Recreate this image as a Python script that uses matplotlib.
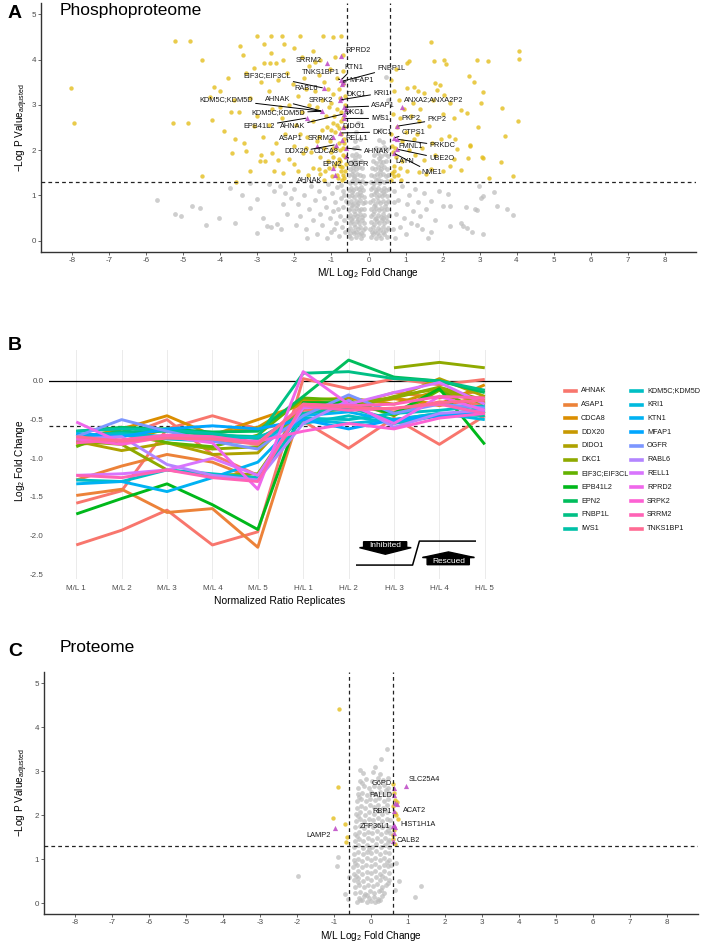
import numpy as np
import matplotlib
matplotlib.use("Agg")
import matplotlib.pyplot as plt
from matplotlib.patches import Polygon
from matplotlib.lines import Line2D

plt.rcParams['font.family'] = ['Liberation Sans', 'DejaVu Sans']
plt.rcParams['mathtext.fontset'] = 'custom'
plt.rcParams['mathtext.rm'] = 'Liberation Sans'
plt.rcParams['mathtext.it'] = 'Liberation Sans:italic'

# ---------------- DATA ----------------
# Panel A (phosphoproteome volcano): (log2 FC, -log10 p adj)
A_gray_center = [
    (-0.53,0.11),(-0.46,0.05),(-0.4,0.16),(-0.33,0.09),(-0.27,0.14),(-0.2,0.06),(-0.14,0.12),(0.07,0.08),(0.13,0.15),(0.21,0.05),(0.28,0.12),(0.35,0.07),(0.43,0.14),(0.5,0.09),
    (-0.55,0.24),(-0.49,0.29),(-0.42,0.22),(-0.36,0.3),(-0.29,0.25),(-0.23,0.31),(-0.16,0.23),(-0.1,0.28),(0.05,0.26),(0.11,0.31),(0.18,0.22),(0.25,0.29),(0.32,0.24),(0.39,0.3),(0.46,0.23),(0.54,0.27),
    (-0.51,0.38),(-0.44,0.43),(-0.38,0.37),(-0.31,0.44),(-0.25,0.39),(-0.18,0.45),(-0.12,0.4),(0.08,0.42),(0.15,0.37),(0.22,0.44),(0.29,0.38),(0.36,0.45),(0.43,0.39),(0.5,0.43),
    (-0.56,0.53),(-0.5,0.57),(-0.43,0.52),(-0.37,0.58),(-0.3,0.54),(-0.24,0.59),(-0.17,0.52),(-0.11,0.56),(0.06,0.55),(0.12,0.58),(0.19,0.51),(0.26,0.57),(0.33,0.53),(0.4,0.59),(0.47,0.52),(0.55,0.56),
    (-0.53,0.68),(-0.46,0.72),(-0.4,0.66),(-0.33,0.73),(-0.26,0.67),(-0.2,0.71),(-0.13,0.69),(0.07,0.7),(0.14,0.66),(0.21,0.73),(0.28,0.68),(0.35,0.72),(0.42,0.67),(0.49,0.71),
    (-0.55,0.84),(-0.48,0.88),(-0.42,0.82),(-0.35,0.87),(-0.28,0.83),(-0.22,0.89),(-0.15,0.84),(-0.09,0.86),(0.05,0.85),(0.11,0.89),(0.18,0.82),(0.25,0.87),(0.32,0.83),(0.39,0.88),(0.46,0.84),(0.53,0.87),
    (-0.52,0.98),(-0.45,1.02),(-0.39,0.97),(-0.32,1.03),(-0.25,0.99),(-0.19,1.01),(-0.12,0.96),(0.08,1.0),(0.15,1.03),(0.22,0.97),(0.29,1.02),(0.36,0.98),(0.43,1.03),(0.5,0.99),
    (-0.54,1.13),(-0.47,1.17),(-0.41,1.12),(-0.34,1.16),(-0.27,1.14),(-0.21,1.18),(-0.14,1.12),(0.06,1.15),(0.12,1.18),(0.19,1.12),(0.27,1.16),(0.34,1.13),(0.41,1.17),(0.48,1.12),(0.55,1.15),
    (-0.51,1.28),(-0.44,1.32),(-0.37,1.27),(-0.3,1.33),(-0.24,1.29),(-0.17,1.31),(-0.1,1.27),(0.07,1.3),(0.14,1.27),(0.21,1.33),(0.28,1.28),(0.35,1.32),(0.42,1.29),(0.5,1.31),
    (-0.53,1.44),(-0.45,1.47),(-0.38,1.42),(-0.31,1.48),(-0.23,1.45),(-0.15,1.43),(0.08,1.46),(0.16,1.42),(0.24,1.48),(0.31,1.44),(0.39,1.47),(0.47,1.43),(0.54,1.46),
    (-0.5,1.59),(-0.42,1.62),(-0.34,1.58),(-0.26,1.63),(-0.18,1.6),(0.1,1.61),(0.18,1.58),(0.26,1.63),(0.34,1.59),(0.42,1.62),(0.5,1.58),
    (-0.47,1.74),(-0.39,1.77),(-0.3,1.73),(-0.21,1.76),(0.12,1.75),(0.21,1.72),(0.3,1.77),(0.39,1.74),(0.48,1.76),
    (-0.44,1.89),(-0.35,1.92),(-0.25,1.88),(0.15,1.9),(0.25,1.93),(0.35,1.88),(0.45,1.91),(0.53,1.87),
    (-0.4,2.04),(-0.3,2.07),(0.2,2.05),(0.32,2.02),(0.42,2.08),(0.5,2.03),
    (-0.36,2.2),(-0.22,2.25),(0.28,2.22),(0.4,2.18),
    (-0.33,2.4),(0.35,2.45),(-0.28,2.6),(0.46,3.62),(0.52,3.1),(-0.2,2.85),(0.3,2.75),
    (-0.49,0.17),(-0.35,0.2),(-0.21,0.18),(0.1,0.2),(0.24,0.18),(0.4,0.2),(-0.47,0.47),(-0.28,0.48),(0.18,0.48),(0.38,0.5),
    (-0.45,0.78),(-0.3,0.79),(0.16,0.77),(0.44,0.77),(-0.44,1.07),(-0.24,1.08),(0.2,1.07),(0.4,1.08),(-0.4,1.38),(0.25,1.37),
    (-0.42,1.53),(0.3,1.53),(-0.37,1.68),(0.35,1.68),(-0.36,1.83),(0.28,1.83)]
A_gray_outer = [
    (-5.71,0.9),(-4.77,0.77),(-4.56,0.73),(-5.24,0.59),(-5.08,0.55),(-4.05,0.49),(-3.73,1.17),(-3.41,1.02),(-3.0,0.93),(-3.2,0.72),(-3.0,0.17),
    (-2.73,0.33),(-2.64,0.3),(-2.46,0.37),(-2.37,0.26),(-2.55,1.1),(-2.4,1.2),(-2.25,1.05),(-2.1,0.95),(-2.0,1.15),(-1.9,0.8),(-1.85,0.55),
    (-1.75,1.0),(-1.7,0.25),(-1.6,0.7),(-1.55,1.2),(-1.5,0.45),(-1.45,0.9),(-1.4,0.15),(-1.35,1.1),(-1.3,0.6),(-1.25,0.35),(-1.2,0.95),
    (-1.15,0.75),(-1.1,1.25),(-1.05,0.5),(-1.0,0.2),(-0.98,1.05),(-0.95,0.65),(-0.9,0.85),(-0.88,0.4),(-0.85,1.18),(-0.8,0.1),(-0.78,0.55),
    (-0.75,0.95),(-0.72,0.3),(-0.7,0.75),(-0.68,1.1),(-0.65,0.45),(-0.63,0.2),(-0.62,0.88),(-2.2,0.6),(-2.85,0.5),(-1.95,0.35),(-2.3,0.8),
    (-1.65,0.05),(-3.6,0.4),(-4.4,0.35),(-2.7,1.25),(-3.2,1.28),(-0.82,0.7),(-0.66,1.0),(-0.74,1.22),(-0.92,0.25),(-1.12,0.05),
    (2.98,1.2),(3.38,1.07),(3.1,0.98),(3.05,0.95),(2.16,1.03),(1.69,0.88),(2.0,0.77),(2.2,0.77),(2.63,0.74),(2.88,0.7),(2.92,0.68),
    (3.48,0.76),(3.75,0.7),(3.91,0.56),(2.49,0.38),(2.2,0.33),(2.55,0.33),(2.66,0.29),(2.8,0.2),(3.1,0.14),(1.3,0.35),(1.45,0.25),
    (1.0,0.15),(1.6,0.05),(0.7,1.1),(0.75,0.6),(0.8,0.9),(0.85,0.3),(0.9,1.2),(0.95,0.5),(1.05,0.8),(1.1,1.0),(1.15,0.4),(1.2,0.65),
    (1.25,1.15),(1.35,0.85),(1.4,0.55),(1.5,1.05),(1.55,0.7),(1.8,0.45),(1.9,1.1),(0.65,0.25),(0.68,0.85),(0.72,0.05),(1.7,0.2)]
A_yellow = [
    (-3.0,4.52),(-2.63,4.52),(-2.35,4.52),(-1.84,4.52),(-1.24,4.52),(-0.95,4.5),(-0.75,4.52),
    (-3.48,4.31),(-2.83,4.34),(-2.27,4.35),(-3.4,4.1),(-2.63,4.15),(-2.83,3.92),(-2.67,3.92),(-2.49,3.92),(-2.3,4.0),(-3.1,3.81),
    (-3.3,3.7),(-4.18,3.39),(-4.27,3.17),(-4.0,3.3),(-3.64,3.11),(-3.71,2.84),(-4.22,2.67),(-3.91,2.42),(-3.61,2.24),(-3.37,2.16),
    (-3.68,1.94),(-3.1,2.53),(-2.6,1.94),(-2.9,1.9),(-3.3,1.98),(-3.2,1.54),(-4.51,1.42),(-3.59,1.3),(-2.92,1.76),(-2.81,1.76),
    (-2.55,1.55),(-2.3,1.5),(-2.0,1.69),(-2.14,1.8),(-1.78,1.94),(-1.5,1.6),(-1.64,1.45),(-1.3,1.47),(-1.08,1.6),
    (-8.05,3.38),(-7.95,2.61),(-5.24,4.4),(-4.82,4.4),(-4.51,3.99),(-5.29,2.6),(-4.88,2.61),
    (-2.9,3.5),(-2.7,3.3),(-2.45,3.55),(-2.2,3.7),(-2.05,3.45),(-1.9,3.2),(-1.75,3.6),(-1.6,3.85),(-1.45,3.3),(-1.35,3.65),(-1.2,3.5),
    (-1.05,3.8),(-0.95,3.25),(-0.85,3.6),(-0.7,3.45),(-2.6,2.9),(-2.35,2.7),(-2.15,3.0),(-1.95,2.55),(-1.8,2.85),(-1.65,2.3),(-1.5,2.65),
    (-1.4,2.95),(-1.25,2.45),(-1.15,2.75),(-1.05,2.2),(-0.95,2.6),(-0.85,2.9),(-0.75,2.35),(-0.68,2.7),(-2.85,2.3),(-2.5,2.15),(-2.25,2.35),
    (-2.0,2.1),(-1.85,2.35),(-1.7,2.05),(-1.55,1.95),(-1.4,2.2),(-1.3,1.85),(-1.2,2.05),(-1.1,1.75),(-1.0,1.95),(-0.92,1.65),(-0.85,1.45),
    (-0.8,1.8),(-0.75,1.55),(-0.7,2.05),(-0.65,1.38),(-0.62,1.7),(-0.9,2.4),(-0.8,2.15),(-0.7,1.9),(-0.66,2.5),(-1.0,3.05),(-0.78,3.15),
    (-1.1,3.35),(-0.9,4.05),(-1.5,4.2),(-2.0,4.25),(-1.3,4.0),(-0.7,4.1),(-1.8,4.05),(-3.8,3.6),(-3.5,2.85),(-3.2,3.15),(-2.4,2.95),
    (-2.7,2.55),(-3.0,2.75),(-1.35,1.58),(-0.98,1.42),(-1.2,1.35),(-2.45,1.78),(-1.9,1.55),(-0.88,2.05),(-0.95,1.85),(-0.75,2.85),
    (-0.63,3.0),(-0.72,1.35),(-0.64,1.55),(-0.67,2.25),(-0.78,1.65),(-0.86,2.55),(-0.69,3.75),(-1.02,2.45),(-1.25,3.1),(-1.6,3.0),
    (-0.64,1.85),(-0.71,1.62),(-0.83,1.38),(-0.77,2.0),(-0.66,2.15),(-0.88,1.72),(-0.73,2.65),(-0.81,2.48),(-0.97,2.05),(-1.12,2.5),
    (-1.33,2.3),(-1.18,1.55),(-0.69,1.45),(-0.76,1.75),(-0.92,2.75),(-1.07,2.95),(-0.8,3.35),(-0.64,3.2),(-1.45,3.95),(-1.7,3.35),
    (0.64,1.5),(0.7,1.65),(0.75,1.84),(0.8,1.45),(0.85,1.6),(0.9,1.75),(1.05,1.55),(1.36,1.52),(1.56,1.48),(1.69,1.58),(2.0,1.55),
    (2.2,1.65),(2.68,1.83),(3.1,1.82),(3.57,1.73),(2.49,1.56),(3.91,1.42),(3.26,1.38),(1.22,2.24),(2.74,2.1),(3.07,1.85),(2.31,1.8),
    (1.09,3.97),(1.05,3.92),(1.77,3.97),(2.05,3.99),(2.1,3.9),(2.92,3.99),(3.23,3.97),(2.71,3.63),(2.85,3.5),(3.09,3.28),(1.05,3.37),
    (1.22,3.39),(1.33,3.3),(1.5,3.26),(1.81,3.48),(1.86,3.32),(1.93,3.44),(2.05,3.22),(2.49,2.89),(2.67,2.82),(3.03,3.04),(3.62,2.92),
    (4.05,2.64),(3.68,2.32),(2.95,2.5),(2.73,2.11),(2.4,2.02),(2.17,2.31),(2.35,2.24),(1.95,2.24),(1.72,2.16),(1.63,2.53),(1.36,2.64),
    (2.31,2.71),(4.06,4.19),(4.06,4.02),(1.68,4.38),(0.62,1.35),(0.68,1.42),(0.72,2.05),(0.78,2.5),(0.65,2.8),(0.82,3.1),(0.7,3.3),
    (0.9,2.2),(0.95,2.9),(1.0,2.4),(1.1,2.0),(1.15,2.75),(1.25,1.9),(1.45,2.05),(1.3,2.35),(0.66,1.95),(0.6,2.35),(0.88,1.35),
    (1.5,1.78),(1.8,1.9),(0.75,3.8),(0.62,3.55),(1.4,2.9),(1.2,3.05),(2.0,2.8),(1.75,3.1),(2.2,3.05),(0.85,2.7),(0.63,2.1),(0.7,1.55)]
A_hits = [(-0.74,4.07),(-0.74,3.55),(-0.7,3.5),(-0.72,3.45),(-1.21,3.37),(-1.12,3.92),(-0.74,3.15),(-0.76,3.11),(-1.25,2.86),
          (0.91,2.95),(-0.62,2.9),(-0.65,2.7),(-1.66,2.71),(-0.67,2.8),(0.78,2.53),(-0.76,2.38),(0.69,2.27),(0.78,2.24),
          (-0.62,2.05),(0.78,2.02),(-0.89,2.12),(-0.62,1.87),(0.69,1.93),(-0.95,1.6),(-0.7,2.5),(-0.72,2.22),(-0.95,2.3),
          (-1.4,2.1),(-0.66,2.95),(-0.9,1.45)]
# labels: text, point x, point y
A_label_text = ["SRRM2","RPRD2","KTN1","FNBP1L","MFAP1","TNKS1BP1","EIF3C;EIF3CL","RABL6","SRPK2","DKC1","KRI1",
                "KDM5C;KDM5D","AHNAK","ANXA2;ANXA2P2","ASAP1","KDM5C;KDM5D","DKC1","IWS1","EPB41L2","AHNAK","PKP2","PKP2",
                "DIDO1","DKC1","CTPS1","SRRM2","ASAP1","RELL1","PRKDC","FMNL1","AHNAK","UBE2O","DDX20","CDCA8","EPN2",
                "OGFR","LAYN","NME1","AHNAK"]
A_label_pt = [(-1.12,3.92),(-0.74,4.07),(-0.74,3.55),(-0.72,3.52),(-0.72,3.5),(-0.74,3.55),(-1.21,3.37),(-1.2,3.35),(-0.74,3.15),
              (-0.76,3.11),(-0.76,3.11),(-1.25,2.86),(-1.25,2.86),(0.91,2.95),(-0.66,2.95),(-1.25,2.86),(-0.62,2.9),(-0.65,2.7),
              (-1.66,2.71),(-0.67,2.8),(0.78,2.53),(0.78,2.53),(-0.7,2.5),(-0.76,2.38),(0.69,2.27),(-0.95,2.3),(-1.4,2.1),
              (-0.72,2.22),(0.78,2.24),(0.78,2.05),(-0.62,2.05),(0.78,2.02),(-0.89,2.12),(-0.89,2.12),(-0.95,1.6),(-0.62,1.87),
              (0.69,1.93),(0.69,1.93),(-0.9,1.45)]

# Panel B: log2 fold change per phosphosite over 10 replicates
B_replicates = ["M/L 1","M/L 2","M/L 3","M/L 4","M/L 5","H/L 1","H/L 2","H/L 3","H/L 4","H/L 5"]
B_genes = ["AHNAK","ASAP1","CDCA8","DDX20","DIDO1","DKC1","EIF3C;EIF3CL","EPB41L2","EPN2","FNBP1L","IWS1",
           "KDM5C;KDM5D","KRI1","KTN1","MFAP1","OGFR","RABL6","RELL1","RPRD2","SRPK2","SRRM2","TNKS1BP1"]
nan = float('nan')
B_site_gene = ["AHNAK","AHNAK","AHNAK","ASAP1","ASAP1","CDCA8","DDX20","DIDO1","DKC1","DKC1","DKC1","EIF3C;EIF3CL",
               "EPB41L2","EPN2","FNBP1L","IWS1","KDM5C;KDM5D","KDM5C;KDM5D","KRI1","KTN1","MFAP1","OGFR","RABL6",
               "RELL1","RPRD2","SRPK2","SRRM2","SRRM2","TNKS1BP1"]
B_site_values = [
    [-2.12,-1.93,-1.67,-2.12,-1.95,0.03,-0.10,0.03,-0.05,0.02],
    [-1.58,-1.42,-0.62,-0.45,-0.62,-0.52,-0.87,-0.48,-0.82,-0.45],
    [-0.80,-0.72,-0.50,-0.95,-1.22,-0.38,-0.33,-0.40,-0.27,-0.30],
    [-1.48,-1.40,-1.70,-1.65,-2.15,-0.28,-0.30,-0.22,-0.32,-0.20],
    [-1.28,-1.10,-0.95,-1.05,-1.28,-0.25,-0.32,-0.15,-0.22,-0.12],
    [-0.75,-0.62,-0.45,-0.70,-0.50,-0.30,-0.33,-0.23,-0.30,-0.05],
    [-0.82,-0.78,-0.62,-0.68,-0.60,-0.25,-0.22,-0.30,-0.12,-0.28],
    [-0.78,-0.90,-0.80,-0.95,-0.93,-0.30,-0.30,-0.22,0.03,-0.20],
    [-0.78,-0.82,-1.15,-1.22,-1.20,-0.35,-0.28,-0.22,-0.08,-0.25],
    [nan,nan,nan,nan,nan,nan,nan,0.17,0.24,0.17],
    [-0.70,-0.68,-0.80,-0.88,-0.85,-0.42,-0.36,-0.20,-0.10,-0.30],
    [-0.85,-0.62,-0.80,-0.85,-0.70,-0.22,-0.25,-0.45,-0.12,-0.42],
    [-1.72,-1.52,-1.33,-1.60,-1.92,-0.28,-0.28,-0.42,-0.10,-0.82],
    [-0.65,-0.60,-0.62,-0.66,-0.65,-0.20,0.27,0.05,0.00,-0.15],
    [-0.72,-0.66,-0.65,-0.70,-0.72,0.10,0.12,0.03,0.00,-0.12],
    [-0.65,-0.62,-0.63,-0.68,-0.75,-0.42,-0.35,-0.50,-0.42,-0.45],
    [-0.70,-0.68,-0.72,-0.75,-0.72,-0.55,-0.45,-0.55,-0.45,-0.35],
    [-1.28,-1.30,-1.15,-1.20,-1.25,-0.48,-0.50,-0.42,-0.38,-0.32],
    [-0.75,-0.70,-0.75,-0.78,-0.80,-0.50,-0.55,-0.50,-0.42,-0.50],
    [-1.33,-1.30,-1.43,-1.25,-1.05,-0.45,-0.40,-0.52,-0.45,-0.40],
    [-0.68,-0.72,-0.62,-0.58,-0.62,-0.50,-0.62,-0.50,-0.45,-0.38],
    [-0.72,-0.50,-0.65,-0.78,-0.88,-0.45,-0.18,-0.42,-0.30,-0.35],
    [-0.75,-0.72,-1.08,-1.22,-1.28,-0.55,-0.25,-0.60,-0.42,-0.38],
    [-1.22,-1.20,-1.15,-1.00,-1.22,-0.35,-0.30,-0.15,-0.02,-0.30],
    [-0.53,-0.80,-0.72,-0.80,-1.40,0.12,-0.30,-0.55,-0.20,-0.38],
    [-0.75,-0.82,-0.72,-0.75,-0.78,-0.65,-0.55,-0.62,-0.48,-0.42],
    [-1.22,-1.25,-1.15,-1.25,-1.30,-0.30,-0.32,-0.30,-0.20,-0.22],
    [-0.80,-0.76,-0.70,-0.72,-0.80,-0.32,-0.38,-0.35,-0.30,-0.42],
    [-0.72,-0.78,-0.74,-0.75,-0.82,-0.30,-0.34,-0.36,-0.28,-0.25]]

# Panel C (proteome volcano)
C_gray = [
    (-0.38,0.03),(-0.25,0.06),(-0.12,0.02),(0.0,0.05),(0.12,0.03),(0.24,0.07),(-0.32,0.12),(-0.18,0.15),(-0.05,0.11),(0.07,0.14),(0.19,0.1),(0.3,0.16),
    (-0.42,0.22),(-0.3,0.26),(-0.17,0.21),(-0.04,0.27),(0.09,0.23),(0.22,0.28),(0.34,0.22),
    (-0.44,0.37),(-0.33,0.41),(-0.2,0.36),(-0.08,0.42),(0.05,0.38),(0.17,0.43),(0.29,0.37),(0.4,0.41),
    (-0.46,0.52),(-0.35,0.56),(-0.23,0.51),(-0.11,0.57),(0.01,0.53),(0.13,0.58),(0.25,0.52),(0.37,0.57),(0.48,0.53),
    (-0.47,0.67),(-0.36,0.72),(-0.24,0.66),(-0.12,0.71),(0.0,0.68),(0.12,0.73),(0.24,0.67),(0.36,0.72),(0.48,0.68),
    (-0.48,0.82),(-0.37,0.86),(-0.25,0.81),(-0.13,0.87),(-0.01,0.83),(0.11,0.88),(0.23,0.82),(0.35,0.87),(0.47,0.83),(0.55,0.86),
    (-0.47,0.97),(-0.36,1.01),(-0.24,0.96),(-0.12,1.02),(0.0,0.98),(0.12,1.03),(0.24,0.97),(0.36,1.02),(0.48,0.98),
    (-0.46,1.12),(-0.35,1.16),(-0.23,1.11),(-0.11,1.17),(0.01,1.13),(0.13,1.18),(0.25,1.12),(0.37,1.17),(0.5,1.13),
    (-0.45,1.27),(-0.34,1.31),(-0.22,1.26),(-0.1,1.32),(0.02,1.28),(0.14,1.33),(0.26,1.27),(0.38,1.32),(0.5,1.28),
    (-0.44,1.42),(-0.33,1.46),(-0.21,1.41),(-0.09,1.47),(0.03,1.43),(0.15,1.48),(0.27,1.42),(0.39,1.47),(0.5,1.43),
    (-0.43,1.57),(-0.32,1.61),(-0.2,1.56),(-0.08,1.62),(0.04,1.58),(0.16,1.63),(0.28,1.57),(0.4,1.62),(0.51,1.58),
    (-0.42,1.72),(-0.31,1.76),(-0.19,1.71),(-0.07,1.77),(0.05,1.73),(0.17,1.78),(0.29,1.72),(0.41,1.77),(0.52,1.73),
    (-0.41,1.87),(-0.3,1.91),(-0.18,1.86),(-0.06,1.92),(0.06,1.88),(0.18,1.93),(0.3,1.87),(0.42,1.92),(0.52,1.88),
    (-0.4,2.02),(-0.29,2.06),(-0.17,2.01),(-0.05,2.07),(0.07,2.03),(0.19,2.08),(0.31,2.02),(0.43,2.07),
    (-0.39,2.17),(-0.28,2.21),(-0.16,2.16),(-0.04,2.22),(0.08,2.18),(0.2,2.23),(0.32,2.17),(0.44,2.22),
    (-0.38,2.32),(-0.26,2.36),(-0.14,2.31),(-0.02,2.37),(0.1,2.33),(0.22,2.38),(0.34,2.32),(0.46,2.36),
    (-0.36,2.47),(-0.24,2.51),(-0.12,2.46),(0.0,2.52),(0.12,2.48),(0.24,2.53),(0.36,2.47),(0.48,2.5),
    (-0.34,2.62),(-0.2,2.66),(-0.06,2.61),(0.08,2.67),(0.22,2.63),(0.36,2.68),(0.46,2.62),
    (-0.3,2.78),(-0.14,2.82),(0.02,2.77),(0.18,2.83),(0.32,2.79),(0.45,2.85),
    (-0.22,2.95),(0.05,2.98),(0.25,2.93),(0.28,3.27),(0.42,3.5),(0.1,3.1),(-0.3,3.02),
    (-0.3,0.06),(0.18,0.05),(-0.1,0.19),(0.28,0.3),(-0.36,0.47),(0.45,0.46),(-0.4,0.61),(0.3,0.62),(-0.42,0.92),(0.42,0.93),
    (-0.05,1.22),(0.45,1.38),(-0.38,1.52),(0.46,1.66),(-0.36,1.97),(0.38,2.12),(-0.32,2.42),(0.4,2.57),(-0.25,2.72),
    (-1.98,0.62),(1.34,0.38),(1.2,0.14),(-0.9,1.05),(-0.92,0.85),(-0.7,0.2),(-0.62,0.08),(0.75,0.5),(0.65,0.3),(-0.6,0.6),(0.68,0.9)]
C_yellow = [(-0.87,4.42),(-0.9,2.64),(-1.02,1.93),(-0.65,1.5),(-0.68,1.38),(-0.7,1.8),(0.62,2.5),(0.65,2.35),(0.6,2.2),
            (0.7,2.3),(0.63,1.65),(0.6,1.45),(0.66,1.35),(0.72,1.9),(0.64,2.05),(0.6,2.7),(0.68,2.0),(0.6,1.55)]
C_hits = [(0.95,2.66),(0.62,2.62),(0.62,2.45),(0.71,2.25),(0.65,2.28),(0.63,2.08),(0.62,1.78),(0.6,1.75),(0.65,1.72),
          (0.62,1.6),(-0.98,1.71),(0.6,1.42)]
C_label_text = ["SLC25A4","G6PD","PALLD","ACAT2","RBP1","HIST1H1A","ZFP36L1","LAMP2","CALB2"]

FC_CUT = np.log2(1.5)
P_CUT = -np.log10(0.05)

# ---------------- STYLE / LAYOUT ----------------
W, H = 702, 944
fig = plt.figure(figsize=(W/100, H/100), dpi=100)
fig.patch.set_facecolor('white')

def ax_px(l, t, r, b):
    return fig.add_axes([l/W, 1-b/H, (r-l)/W, (b-t)/H])

def ftext(x, y, s, **kw):
    return fig.text(x/W, 1-y/H, s, **kw)

def hcl(h, c=100.0, l=65.0):
    hr = np.deg2rad(h)
    U, V = c*np.cos(hr), c*np.sin(hr)
    un, vn = 0.1978398, 0.4683363
    Y = ((l+16)/116)**3 if l > 7.999592 else l/903.3
    u = U/(13*l) + un; v = V/(13*l) + vn
    X = 9.0*Y*u/(4*v); Z = -X/3 - 5*Y + 3*Y/v
    r = 3.240479*X - 1.537150*Y - 0.498535*Z
    g = -0.969256*X + 1.875992*Y + 0.041556*Z
    b = 0.055648*X - 0.204043*Y + 1.057311*Z
    gam = lambda t: 12.92*t if t <= 0.0031308 else 1.055*t**(1/2.4) - 0.055
    return tuple(min(1, max(0, gam(t))) for t in (r, g, b))

GRAY = '#BEBEBE'
YEL = '#E4BE1E'
MAG = '#C050C8'
TICKC = '#4D4D4D'

def volcano(ax, gray, yellow, hits):
    gx, gy = zip(*gray)
    ax.scatter(gx, gy, s=12, color=GRAY, alpha=0.75, linewidths=0, zorder=2)
    yx, yy = zip(*yellow)
    ax.scatter(yx, yy, s=10, color=YEL, alpha=0.8, linewidths=0, zorder=3)
    hx, hy = zip(*hits)
    ax.scatter(hx, hy, s=14, marker='^', color=MAG, alpha=0.9, linewidths=0, zorder=4)
    ax.axhline(P_CUT, color='#222222', lw=0.9, ls=(0, (3, 2.5)), zorder=5)
    ax.axvline(-FC_CUT, color='#222222', lw=0.9, ls=(0, (3, 2.5)), zorder=5)
    ax.axvline(FC_CUT, color='#222222', lw=0.9, ls=(0, (3, 2.5)), zorder=5)
    ax.set_xlim(-8.85, 8.85)
    ax.set_ylim(-0.25, 5.25)
    ax.set_xticks(range(-8, 9))
    ax.set_xticklabels([str(v) for v in range(-8, 9)])
    ax.set_yticks(range(0, 6))
    for s in ['top', 'right']:
        ax.spines[s].set_visible(False)
    for s in ['left', 'bottom']:
        ax.spines[s].set_color('#333333'); ax.spines[s].set_linewidth(1.0)
    ax.tick_params(axis='both', labelsize=5.8, colors=TICKC, length=2, width=0.6, pad=1.5)
    ax.set_facecolor('none')

# ---------------- PANEL A ----------------
axA = ax_px(41, 3, 696, 252)
volcano(axA, A_gray_center + A_gray_outer, A_yellow, A_hits)
A_label_pos = [(-1.62,3.99,0),(-0.29,4.2,0),(-0.41,3.82,1),(0.62,3.81,1),(-0.2,3.54,1),(-1.3,3.71,1),(-2.75,3.64,1),
               (-1.68,3.37,0),(-1.3,3.09,0),(-0.32,3.22,0),(0.35,3.26,1),(-3.85,3.11,1),(-2.45,3.11,1),(1.75,3.11,0),
               (0.4,2.98,1),(-2.44,2.82,1),(-0.4,2.84,0),(0.32,2.7,1),(-2.96,2.53,1),(-2.06,2.53,1),(1.14,2.69,0),
               (1.85,2.67,1),(-0.4,2.53,0),(0.37,2.4,1),(1.22,2.4,1),(-1.3,2.25,0),(-2.1,2.25,0),(-0.33,2.25,0),
               (2.0,2.1,1),(1.15,2.07,0),(0.22,1.96,1),(1.98,1.81,1),(-1.95,1.96,1),(-1.14,1.96,0),(-0.98,1.69,0),
               (-0.27,1.69,1),(0.98,1.74,0),(1.72,1.5,1),(-1.58,1.32,0)]
for txt, (px_, py_), (lx, ly, seg) in zip(A_label_text, A_label_pt, A_label_pos):
    ap = dict(arrowstyle='-', lw=0.7, color='black', shrinkA=0, shrinkB=1) if seg else None
    axA.annotate(txt, xy=(px_, py_), xytext=(lx, ly), ha='center', va='center', fontsize=5.3,
                 color='#1a1a1a', arrowprops=ap, zorder=6)
ftext(8, 13, 'A', fontsize=14, fontweight='bold', ha='left', va='center')
ftext(60, 10, 'Phosphoproteome', fontsize=12.5, ha='left', va='center')
ftext(368, 273, r'M/L Log$_2$ Fold Change', fontsize=7.2, ha='center', va='center')
ftext(22, 128, r'$-$Log P Value$_{\mathregular{adjusted}}$', fontsize=7.2, ha='center', va='center', rotation=90)

# ---------------- PANEL B ----------------
axB = ax_px(49, 350, 512, 579)
xs = np.arange(1, 11)
hue = np.linspace(15, 375, len(B_genes) + 1)[:-1]
gene_col = {g: hcl(h) for g, h in zip(B_genes, hue)}
for g, vals in zip(B_site_gene, B_site_values):
    axB.plot(xs, vals, color=gene_col[g], lw=2.1, solid_capstyle='butt', zorder=3)
axB.axhline(0, color='black', lw=0.9, zorder=2)
axB.axhline(-FC_CUT, color='#222222', lw=0.9, ls=(0, (3, 2.5)), zorder=2)
for xv in xs:
    axB.axvline(xv, color='#EBEBEB', lw=0.7, zorder=0)
axB.set_xlim(0.4, 10.6)
axB.set_ylim(-2.56, 0.40)
axB.set_xticks(xs)
axB.set_xticklabels(B_replicates)
axB.set_yticks([0, -0.5, -1.0, -1.5, -2.0, -2.5])
axB.set_yticklabels(['0.0', '-0.5', '-1.0', '-1.5', '-2.0', '-2.5'])
for s in axB.spines.values():
    s.set_visible(False)
axB.tick_params(axis='both', labelsize=5.8, colors=TICKC, length=0, pad=4)
axB.set_facecolor('none')
# inhibited / rescued schematic
axB.plot([7.18, 8.41, 8.56, 9.79], [-2.38, -2.38, -2.07, -2.07], color='black', lw=1.1, zorder=4)
inh = [(7.33,-2.078),(8.28,-2.078),(8.28,-2.15),(8.38,-2.155),(7.81,-2.24),(7.24,-2.155),(7.33,-2.15)]
res = [(9.2,-2.21),(9.77,-2.282),(9.66,-2.285),(9.66,-2.375),(8.73,-2.375),(8.73,-2.285),(8.63,-2.282)]
axB.add_patch(Polygon(inh, closed=True, color='black', zorder=5))
axB.add_patch(Polygon(res, closed=True, color='black', zorder=5))
axB.text(7.81, -2.125, 'Inhibited', color='white', fontsize=6, ha='center', va='center', zorder=6)
axB.text(9.2, -2.33, 'Rescued', color='white', fontsize=6, ha='center', va='center', zorder=6)
ftext(8, 345, 'B', fontsize=14, fontweight='bold', ha='left', va='center')
ftext(280, 601, 'Normalized Ratio Replicates', fontsize=7.5, ha='center', va='center')
ftext(20, 461, r'Log$_2$ Fold Change', fontsize=7.2, ha='center', va='center', rotation=90)
# legend (two columns of 11)
for i, g in enumerate(B_genes):
    col, row = divmod(i, 11)
    x0 = 565 + col*66
    y0 = 390.7 + row*13.8
    fig.add_artist(Line2D([x0/W, (x0+11)/W], [1-y0/H, 1-y0/H], color=gene_col[g], lw=2.6,
                          transform=fig.transFigure))
    ftext(x0 + 16, y0, g, fontsize=5.2, ha='left', va='center', color='#1a1a1a')

# ---------------- PANEL C ----------------
axC = ax_px(44, 672, 698, 914)
volcano(axC, C_gray, C_yellow, C_hits)
C_label_pos = [(1.45,2.81),(0.28,2.72),(0.26,2.45),(1.18,2.1),(0.3,2.07),(1.28,1.78),(0.1,1.75),(-1.42,1.53),(1.0,1.42)]
for txt, (lx, ly) in zip(C_label_text, C_label_pos):
    axC.text(lx, ly, txt, ha='center', va='center', fontsize=5.3, color='#1a1a1a', zorder=6)
ftext(8, 651, 'C', fontsize=14, fontweight='bold', ha='left', va='center')
ftext(60, 648, 'Proteome', fontsize=12.5, ha='left', va='center')
ftext(371, 936, r'M/L Log$_2$ Fold Change', fontsize=7.2, ha='center', va='center')
ftext(22, 793, r'$-$Log P Value$_{\mathregular{adjusted}}$', fontsize=7.2, ha='center', va='center', rotation=90)

fig.savefig('out.png', dpi=100, facecolor='white')
